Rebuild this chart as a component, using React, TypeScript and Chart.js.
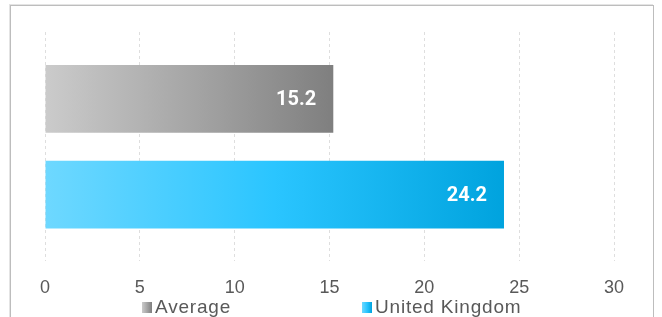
import { useEffect, useRef } from "react";
import { Chart, registerables } from "chart.js";

Chart.register(...registerables);

// ---- data ----
const CATEGORIES = [""];
const SERIES_NAMES = ["Average", "United Kingdom"];
const AVERAGE_VALUES = [15.2];
const UK_VALUES = [24.2];
const X_MIN = 0;
const X_MAX = 30;
const X_STEP = 5;

// ---- styles ----
const GRADIENT_STOPS = [
  ["#cbcbcb", "#a6a6a6", "#7f7f7f"],
  ["#6ed8ff", "#2ac5ff", "#00a3de"],
];
const TEXT_COLOR = "#595959";
const AXIS_FONT = "'Liberation Sans', Arial, sans-serif";

function makeGradientColor(stops: string[]) {
  return (ctx: any) => {
    const chart = ctx.chart;
    const xs = chart.scales && chart.scales.x;
    if (!chart.chartArea || !xs || ctx.type !== "data") return stops[1];
    const v = ctx.raw as number;
    const x0 = xs.getPixelForValue(0);
    const x1 = xs.getPixelForValue(v);
    if (!isFinite(x0) || !isFinite(x1) || x0 === x1) return stops[1];
    const g = chart.ctx.createLinearGradient(x0, 0, x1, 0);
    g.addColorStop(0, stops[0]);
    g.addColorStop(0.5, stops[1]);
    g.addColorStop(1, stops[2]);
    return g;
  };
}

const valueLabels = {
  id: "valueLabels",
  afterDatasetsDraw(chart: any) {
    const { ctx } = chart;
    ctx.save();
    ctx.font = "bold 20px Roboto, 'Liberation Sans', sans-serif";
    ctx.fillStyle = "#ffffff";
    ctx.textAlign = "right";
    ctx.textBaseline = "middle";
    chart.data.datasets.forEach((ds: any, i: number) => {
      const meta = chart.getDatasetMeta(i);
      meta.data.forEach((el: any, j: number) => {
        const v = ds.data[j] as number;
        ctx.fillText(v.toFixed(1), el.x - 17, el.y + 1);
      });
    });
    ctx.restore();
  },
};

export default function App() {
  const canvasRef = useRef<HTMLCanvasElement | null>(null);

  useEffect(() => {
    if (!canvasRef.current) return;
    const chart = new Chart(canvasRef.current, {
      type: "bar",
      data: {
        labels: CATEGORIES,
        datasets: [
          {
            label: SERIES_NAMES[0],
            data: AVERAGE_VALUES,
            backgroundColor: makeGradientColor(GRADIENT_STOPS[0]),
            borderWidth: 0,
          },
          {
            label: SERIES_NAMES[1],
            data: UK_VALUES,
            backgroundColor: makeGradientColor(GRADIENT_STOPS[1]),
            borderWidth: 0,
          },
        ],
      },
      options: {
        indexAxis: "y",
        responsive: false,
        animation: false,
        devicePixelRatio: 1,
        categoryPercentage: 0.835,
        barPercentage: 0.708,
        layout: { padding: { left: 45, right: 48, top: 32, bottom: 2 } },
        plugins: {
          legend: { display: false },
          tooltip: { enabled: false },
          title: { display: false },
        },
        scales: {
          x: {
            min: X_MIN,
            max: X_MAX,
            ticks: {
              stepSize: X_STEP,
              color: TEXT_COLOR,
              padding: 16,
              font: { family: AXIS_FONT, size: 18 },
              maxRotation: 0,
            },
            grid: {
              color: "#dedede",
              lineWidth: 1,
              drawTicks: false,
            },
            border: { display: false, dash: [3, 3] },
          },
          y: {
            display: false,
          },
        },
      },
      plugins: [valueLabels],
    } as any);
    return () => chart.destroy();
  }, []);

  const legendItem = (name: string, stops: string[], left: number) => (
    <div
      key={name}
      style={{
        position: "absolute",
        left,
        top: 296,
        height: 22,
        display: "flex",
        alignItems: "center",
        fontFamily: AXIS_FONT,
        fontSize: 19,
        letterSpacing: "0.8px",
        color: TEXT_COLOR,
        whiteSpace: "nowrap",
        lineHeight: "22px",
      }}
    >
      <span
        style={{
          display: "inline-block",
          width: 10,
          height: 11,
          marginRight: 3,
          background: `linear-gradient(to right, ${stops[0]}, ${stops[1]}, ${stops[2]})`,
        }}
      />
      <span>{name}</span>
    </div>
  );

  return (
    <div
      style={{
        position: "fixed",
        left: 0,
        top: 0,
        width: 662,
        height: 317,
        background: "#ffffff",
        overflow: "hidden",
      }}
    >
      <div
        style={{
          position: "absolute",
          left: 10,
          top: 5,
          width: 642,
          height: 400,
          border: "1px solid #bdbdbd",
          boxShadow: "-1px -1px 0 #e4e4e4",
        }}
      />
      <canvas
        ref={canvasRef}
        width={662}
        height={317}
        style={{ position: "absolute", left: 0, top: 0, width: 662, height: 317 }}
      />
      {legendItem(SERIES_NAMES[0], GRADIENT_STOPS[0], 142)}
      {legendItem(SERIES_NAMES[1], GRADIENT_STOPS[1], 362)}
    </div>
  );
}
